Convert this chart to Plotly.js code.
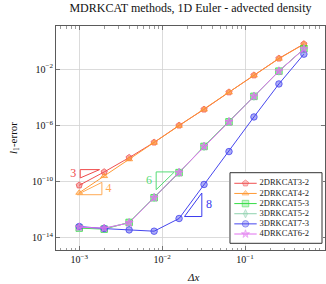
<!DOCTYPE html>
<html>
<head>
<meta charset="utf-8">
<script src="https://cdn.plot.ly/plotly-3.0.1.min.js"></script>
<style>html,body{margin:0;padding:0;background:#fff;}#chart{width:326px;height:284px;}</style>
</head>
<body>
<div id="chart"></div>
<script>
// ---- data ----
var dx = [0.001, 0.002, 0.004, 0.008, 0.016, 0.032, 0.064, 0.128, 0.256, 0.512];
var seriesNames = ['2DRKCAT3-2', '2DRKCAT4-2', '2DRKCAT5-3', '3DRKCAT5-2', '3DRKCAT7-3', '4DRKCAT6-2'];
var err_2DRKCAT3_2 = [5.5e-11, 4.9e-10, 5.1e-9, 6.2e-8, 1.0e-6, 1.38e-5, 2.3e-4, 3.7e-3, 5.8e-2, 0.62];
var err_2DRKCAT4_2 = [1.62e-11, 2.5e-10, 3.9e-9, 5.9e-8, 9.5e-7, 1.35e-5, 2.24e-4, 3.6e-3, 5.6e-2, 0.60];
var err_2DRKCAT5_3 = [5.0e-14, 4.2e-14, 1.26e-13, 7.2e-12, 4.4e-10, 3.2e-8, 1.8e-6, 1.17e-4, 7.2e-3, 0.28];
var err_3DRKCAT5_2 = [5.6e-14, 4.8e-14, 1.2e-13, 7.4e-12, 4.5e-10, 3.2e-8, 1.86e-6, 1.2e-4, 7.4e-3, 0.275];
var err_3DRKCAT7_3 = [6.5e-14, 4.6e-14, 3.7e-14, 3.0e-14, 2.4e-13, 6.3e-11, 1.38e-8, 4.0e-6, 8.9e-4, 0.117];
var err_4DRKCAT6_2 = [5.8e-14, 4.9e-14, 1.17e-13, 7.2e-12, 4.4e-10, 3.2e-8, 1.8e-6, 1.17e-4, 7.2e-3, 0.27];
var seriesValues = [err_2DRKCAT3_2, err_2DRKCAT4_2, err_2DRKCAT5_3, err_3DRKCAT5_2, err_3DRKCAT7_3, err_4DRKCAT6_2];

var xTickVals = [1e-3, 1e-2, 1e-1];
var xTickText = ['10<sup>\u22123</sup>', '10<sup>\u22122</sup>', '10<sup>\u22121</sup>'];
var yTickVals = [1e-14, 1e-10, 1e-6, 1e-2];
var yTickText = ['10<sup>\u221214</sup>', '10<sup>\u221210</sup>', '10<sup>\u22126</sup>', '10<sup>\u22122</sup>'];

// slope triangles (order labels) in data coordinates
var slopeOrders = ['3', '4', '6', '8'];
var slopeTriX = [
  [1.028e-3, 1.758e-3, 1.028e-3, 1.028e-3],
  [9.46e-4, 1.877e-3, 1.877e-3, 9.46e-4],
  [8.47e-3, 1.406e-2, 8.47e-3, 8.47e-3],
  [1.86e-2, 3.01e-2, 3.01e-2, 1.86e-2]
];
var slopeTriY = [
  [7.2e-10, 7.2e-10, 1.84e-10, 7.2e-10],
  [1.18e-11, 8.9e-11, 1.18e-11, 1.18e-11],
  [4.93e-10, 4.93e-10, 2.68e-11, 4.93e-10],
  [3.32e-13, 1.56e-11, 3.32e-13, 3.32e-13]
];
var slopeLabelX = [8.47e-4, 2.25e-3, 6.92e-3, 3.68e-2];
var slopeLabelY = [3.3e-10, 3.0e-11, 1.05e-10, 2.03e-12];

// ---- styles ----
var FONT = '"Liberation Serif", serif';
var colors = ['#f05050', '#ff9933', '#33dd44', '#8fd1ae', '#4646ee', '#e070ef'];
var fills = ['rgba(240,80,80,0.45)', 'rgba(255,153,51,0.45)', 'rgba(51,221,68,0.4)', 'rgba(143,209,174,0.45)', 'rgba(70,70,238,0.45)', 'rgba(224,112,239,0.5)'];
var symbols = ['pentagon', 'triangle-up', 'square', 'diamond-tall', 'circle', 'star'];
var sizes = [6.5, 6, 6.5, 6, 6.5, 6];
var slopeColors = ['#f04848', '#ffaa55', '#55dd77', '#3b3bee'];

var traces = [];
for (var i = 0; i < seriesNames.length; i++) {
  traces.push({
    x: dx, y: seriesValues[i], type: 'scatter', mode: 'lines+markers', name: seriesNames[i],
    line: {color: colors[i], width: 1},
    marker: {symbol: symbols[i], size: sizes[i], color: fills[i], line: {color: colors[i], width: 0.8}},
    showlegend: false, hoverinfo: 'skip'
  });
}
for (var k = 0; k < slopeOrders.length; k++) {
  traces.push({
    x: slopeTriX[k], y: slopeTriY[k], type: 'scatter', mode: 'lines',
    line: {color: slopeColors[k], width: 1}, showlegend: false, hoverinfo: 'skip'
  });
  traces.push({
    x: [slopeLabelX[k]], y: [slopeLabelY[k]], type: 'scatter', mode: 'text', text: [slopeOrders[k]],
    textposition: 'middle center', textfont: {family: FONT, size: 12, color: slopeColors[k]},
    showlegend: false, hoverinfo: 'skip', cliponaxis: false
  });
}

// custom legend drawn in an overlay subplot (box-local pixel units)
var legLineX0 = 4.3, legLineX1 = 26.7, legTextX = 29.5, legRow0 = 10.6, legRowStep = 10.14;
for (var j = 0; j < seriesNames.length; j++) {
  var ry = legRow0 + j * legRowStep;
  traces.push({
    x: [legLineX0, (legLineX0 + legLineX1) / 2, legLineX1], y: [ry, ry, ry],
    xaxis: 'x2', yaxis: 'y2', type: 'scatter', mode: 'lines+markers',
    line: {color: colors[j], width: 1},
    marker: {symbol: symbols[j], size: [0, sizes[j], 0], color: fills[j], line: {color: colors[j], width: 0.8}},
    showlegend: false, hoverinfo: 'skip'
  });
  traces.push({
    x: [legTextX], y: [ry], xaxis: 'x2', yaxis: 'y2', type: 'scatter', mode: 'text',
    text: [seriesNames[j]], textposition: 'middle right',
    textfont: {family: FONT, size: 8.5, color: '#222'},
    showlegend: false, hoverinfo: 'skip', cliponaxis: false
  });
}

// minor x ticks
var minorX = [];
for (var e = -4; e <= 0; e++) {
  for (var m = 2; m <= 9; m++) minorX.push(m * Math.pow(10, e));
}

var axisColor = '#5a5a5a';
var layout = {
  width: 326, height: 284,
  margin: {l: 56, r: 1, t: 26, b: 34, pad: 0},
  paper_bgcolor: '#ffffff', plot_bgcolor: '#ffffff',
  font: {family: FONT, size: 10, color: '#111'},
  title: {text: 'MDRKCAT methods, 1D Euler - advected density', font: {family: FONT, size: 12, color: '#111'},
          x: 0.5, xref: 'paper', xanchor: 'center', y: 0.972, yref: 'container', yanchor: 'middle'},
  xaxis: {
    type: 'log', range: [-3.28, -0.036],
    tickmode: 'array', tickvals: xTickVals, ticktext: xTickText,
    ticks: 'inside', ticklen: 4, tickcolor: axisColor, tickwidth: 0.8,
    showgrid: true, gridcolor: '#d2d2d2', gridwidth: 0.8,
    showline: true, linecolor: axisColor, linewidth: 1, mirror: 'allticks', zeroline: false,
    minor: {tickmode: 'array', tickvals: minorX, ticks: 'inside', ticklen: 2.5, tickcolor: axisColor, tickwidth: 0.6, showgrid: false},
    tickfont: {family: FONT, size: 10, color: '#111'}
  },
  yaxis: {
    type: 'log', range: [-14.86, 1.07],
    tickmode: 'array', tickvals: yTickVals, ticktext: yTickText,
    ticks: 'inside', ticklen: 4, tickcolor: axisColor, tickwidth: 0.8,
    showgrid: true, gridcolor: '#d2d2d2', gridwidth: 0.8,
    showline: true, linecolor: axisColor, linewidth: 1, mirror: 'allticks', zeroline: false,
    tickfont: {family: FONT, size: 10, color: '#111'},
    title: {text: '<i>l</i><sub>1</sub>-error', font: {family: FONT, size: 11, color: '#111'}, standoff: 12}
  },
  xaxis2: {domain: [0.6431, 0.9926], range: [-1, 93], visible: false, fixedrange: true, anchor: 'y2'},
  yaxis2: {domain: [0.0254, 0.3496], range: [71.6, -1], visible: false, fixedrange: true, anchor: 'x2'},
  shapes: [
    {type: 'rect', xref: 'x2', yref: 'y2', x0: 0, x1: 92, y0: 0, y1: 70.6,
     line: {color: '#333', width: 1}, fillcolor: '#ffffff', layer: 'below'}
  ],
  annotations: [
    {text: '<i>\u0394x</i>', xref: 'paper', yref: 'paper', x: 0.51, y: -0.12, xanchor: 'center', yanchor: 'middle',
     showarrow: false, font: {family: FONT, size: 11, color: '#111'}}
  ],
  showlegend: false
};

Plotly.newPlot('chart', traces, layout, {staticPlot: true, displayModeBar: false});
</script>
</body>
</html>
